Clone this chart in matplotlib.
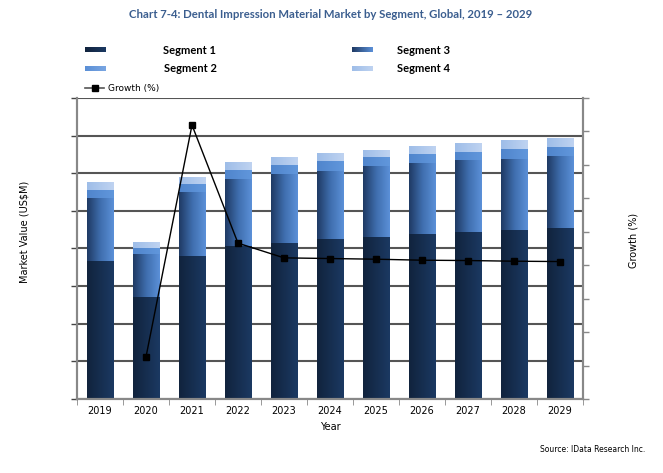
import numpy as np
import matplotlib
matplotlib.use("Agg")
import matplotlib.pyplot as plt
from matplotlib.colors import LinearSegmentedColormap
from matplotlib.lines import Line2D
from matplotlib.patches import Patch

years = ["2019", "2020", "2021", "2022", "2023", "2024", "2025", "2026", "2027", "2028", "2029"]
seg1 = [3.68, 2.70, 3.81, 4.06, 4.14, 4.24, 4.30, 4.38, 4.43, 4.49, 4.54]
seg2 = [1.67, 1.16, 1.68, 1.78, 1.84, 1.83, 1.88, 1.88, 1.91, 1.90, 1.93]
seg3 = [0.21, 0.15, 0.23, 0.25, 0.24, 0.26, 0.24, 0.24, 0.23, 0.26, 0.24]
seg4 = [0.20, 0.16, 0.19, 0.21, 0.21, 0.20, 0.21, 0.23, 0.24, 0.24, 0.24]
growth_years = years[1:]
growth = [1.26, 8.19, 4.66, 4.22, 4.20, 4.18, 4.15, 4.14, 4.12, 4.11]

W, H = 663, 473
fig = plt.figure(figsize=(W / 100, H / 100), dpi=100)
ax = fig.add_axes([77 / W, 1 - 399 / H, (583 - 77) / W, (399 - 98) / H])
ax2 = ax.twinx()

x = np.arange(len(years))
bw = 0.57
cmaps = [
    LinearSegmentedColormap.from_list("s1", ["#11233d", "#1b3962"]),
    LinearSegmentedColormap.from_list("s2", ["#1f3a64", "#3f6eae", "#5b90d8"]),
    LinearSegmentedColormap.from_list("s3", ["#5085cc", "#6197dc"]),
    LinearSegmentedColormap.from_list("s4", ["#9ebde8", "#bfd3f1"]),
]
face = ["#17305a", "#4a7cc0", "#5a8fd6", "#aec8ee"]
grad = np.linspace(0, 1, 64).reshape(1, -1)

bottom = np.zeros(len(years))
for vals, cm, fc in zip([seg1, seg2, seg3, seg4], cmaps, face):
    bars = ax.bar(x, vals, bw, bottom=bottom, color=fc, edgecolor="none", zorder=2)
    for p in bars:
        bx, by = p.get_x(), p.get_y()
        im = ax.imshow(grad, cmap=cm, aspect="auto", zorder=2.1,
                       extent=[bx, bx + p.get_width(), by, by + p.get_height()])
        im.set_clip_path(p)
    bottom += np.array(vals)

ax.set_xlim(-0.5, len(years) - 0.5)
ax.set_ylim(0, 8)
ax2.set_ylim(0, 9)

ax.set_yticks(np.arange(0, 9))
ax.set_yticklabels([])
ax.yaxis.grid(True, color="#555555", linewidth=1.5, zorder=0)
ax.set_axisbelow(True)
ax.tick_params(axis="y", length=4, width=1, color="#444444", direction="out")
ax2.set_yticks(np.arange(0, 10))
ax2.set_yticklabels([])
ax2.tick_params(axis="y", length=4, width=1, color="#888888", direction="out")

ax.set_xticks(x)
ax.set_xticklabels(years, fontsize=7, family="DejaVu Sans")
ax.set_xticks(np.arange(-0.5, len(years)), minor=True)
ax.tick_params(axis="x", which="major", length=0, pad=5)
ax.tick_params(axis="x", which="minor", length=4, color="#888888")

for a in (ax, ax2):
    for s in a.spines.values():
        s.set_color("#888888")
        s.set_linewidth(1.5)
    a.spines["top"].set_visible(False)

ax2.plot(np.arange(1, len(years)), growth, color="black", linewidth=1,
         marker="s", markersize=5, zorder=5)

ax.set_xlabel("Year", fontsize=7, labelpad=4)
fig.text(25 / W, 1 - 232 / H, "Market Value (US$M)", rotation=90, fontsize=7,
         ha="center", va="center")
fig.text(633 / W, 1 - 240 / H, "Growth (%)", rotation=90, fontsize=7,
         ha="center", va="center")

fig.text(331 / W, 1 - 14 / H, "Chart 7-4: Dental Impression Material Market by Segment, Global, 2019 \u2013 2029",
         fontsize=8.2, fontweight="bold", color="#3b5e8f", ha="center", va="center",
         family="Lato")

# legend
def leg_patch(x0, y0, cm):
    lax = fig.add_axes([x0 / W, 1 - (y0 + 2.5) / H, 21 / W, 5 / H])
    lax.imshow(grad, cmap=cm, aspect="auto")
    lax.axis("off")

leg_patch(85, 50, cmaps[0])
leg_patch(85, 69, LinearSegmentedColormap.from_list("l2", ["#5a8fd6", "#7aa6e2"]))
leg_patch(352, 50, LinearSegmentedColormap.from_list("l3", ["#1f3a64", "#5b90d8"]))
leg_patch(352, 69, cmaps[3])
fig.text(163 / W, 1 - 50 / H, "Segment 1", fontsize=8, fontweight="bold", family="Lato", va="center")
fig.text(164 / W, 1 - 69 / H, "Segment 2", fontsize=8, fontweight="bold", family="Lato", va="center")
fig.text(397 / W, 1 - 50 / H, "Segment 3", fontsize=8, fontweight="bold", family="Lato", va="center")
fig.text(397 / W, 1 - 69 / H, "Segment 4", fontsize=8, fontweight="bold", family="Lato", va="center")
fig.add_artist(Line2D([85 / W, 104 / W], [1 - 88 / H, 1 - 88 / H], color="#555555", linewidth=1.2))
fig.add_artist(Line2D([94.5 / W], [1 - 88 / H], marker="s", markersize=5, color="black"))
fig.text(108 / W, 1 - 88 / H, "Growth (%)", fontsize=6.5, va="center")

fig.text(645 / W, 1 - 449 / H, "Source: IData Research Inc.", fontsize=5.5, ha="right", va="center")

fig.savefig("out.png", dpi=100)
